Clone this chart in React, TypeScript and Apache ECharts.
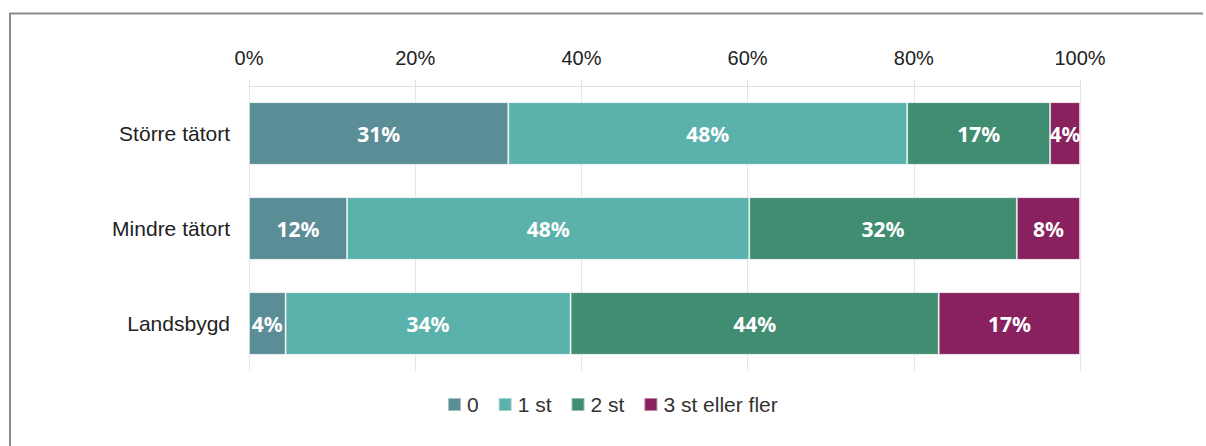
import React, { useEffect, useRef } from "react";
import * as echarts from "echarts";

const categories = ["Större tätort", "Mindre tätort", "Landsbygd"];
const seriesNames = ["0", "1 st", "2 st", "3 st eller fler"];
const values0 = [31.2, 11.8, 4.4];
const values1 = [48.0, 48.4, 34.3];
const values2 = [17.2, 32.2, 44.3];
const values3 = [3.6, 7.6, 17.0];
const colors = ["#5b8d97", "#5bb2ad", "#418d72", "#88215e"];
const xTicks = [0, 20, 40, 60, 80, 100];

export default function App() {
  const ref = useRef<HTMLDivElement>(null);
  useEffect(() => {
    const chart = echarts.init(ref.current!, null, { renderer: "svg" });
    const all = [values0, values1, values2, values3];
    const labelFont = "'Liberation Sans', Arial, sans-serif";
    chart.setOption({
      animation: false,
      color: colors,
      graphic: [
        {
          type: "line",
          shape: { x1: 9, y1: 13.5, x2: 1203, y2: 13.5 },
          style: { stroke: "#8c8c8c", lineWidth: 2 },
          silent: true,
          z: 100,
        },
        {
          type: "line",
          shape: { x1: 10, y1: 13, x2: 10, y2: 446 },
          style: { stroke: "#8c8c8c", lineWidth: 2 },
          silent: true,
          z: 100,
        },
      ],
      grid: { left: 249, right: 126, top: 86, height: 285, containLabel: false },
      xAxis: {
        type: "value",
        position: "top",
        min: xTicks[0],
        max: xTicks[xTicks.length - 1],
        interval: 20,
        axisLine: { show: true, lineStyle: { color: "#e0e0e0", width: 1 } },
        axisTick: { show: true, length: 6, lineStyle: { color: "#e0e0e0" } },
        splitLine: { show: true, lineStyle: { color: "#e6e6e6", width: 1 } },
        axisLabel: {
          formatter: (v: number) => v + "%",
          color: "#222",
          fontSize: 20,
          fontFamily: labelFont,
          margin: 18,
        },
      },
      yAxis: {
        type: "category",
        data: categories,
        inverse: true,
        axisLine: { show: false },
        axisTick: { show: false },
        axisLabel: {
          color: "#222",
          fontSize: 21,
          fontFamily: labelFont,
          margin: 19,
        },
      },
      legend: {
        data: seriesNames,
        bottom: 26,
        left: 442,
        itemWidth: 13,
        itemHeight: 13,
        itemGap: 19,
        icon: "rect",
        textStyle: { color: "#333", fontSize: 21, fontFamily: labelFont, padding: [0, 0, 0, 1] },
      },
      series: seriesNames.map((name, i) => ({
        name,
        type: "bar",
        stack: "total",
        data: all[i],
        barCategoryGap: "34%",
        itemStyle: { color: colors[i], borderColor: "rgba(255,255,255,0.45)", borderWidth: 1 },
        label: {
          show: true,
          position: "inside",
          formatter: (p: any) => Math.round(p.value) + "%",
          color: "#fff",
          fontWeight: "bold",
          fontSize: 21,
          fontFamily: "'Noto Sans', 'Open Sans', sans-serif",
        },
      })),
    });
    return () => chart.dispose();
  }, []);
  return (
    <div
      ref={ref}
      style={{ position: "absolute", left: 0, top: 0, width: 1206, height: 446, background: "#fff" }}
    />
  );
}
